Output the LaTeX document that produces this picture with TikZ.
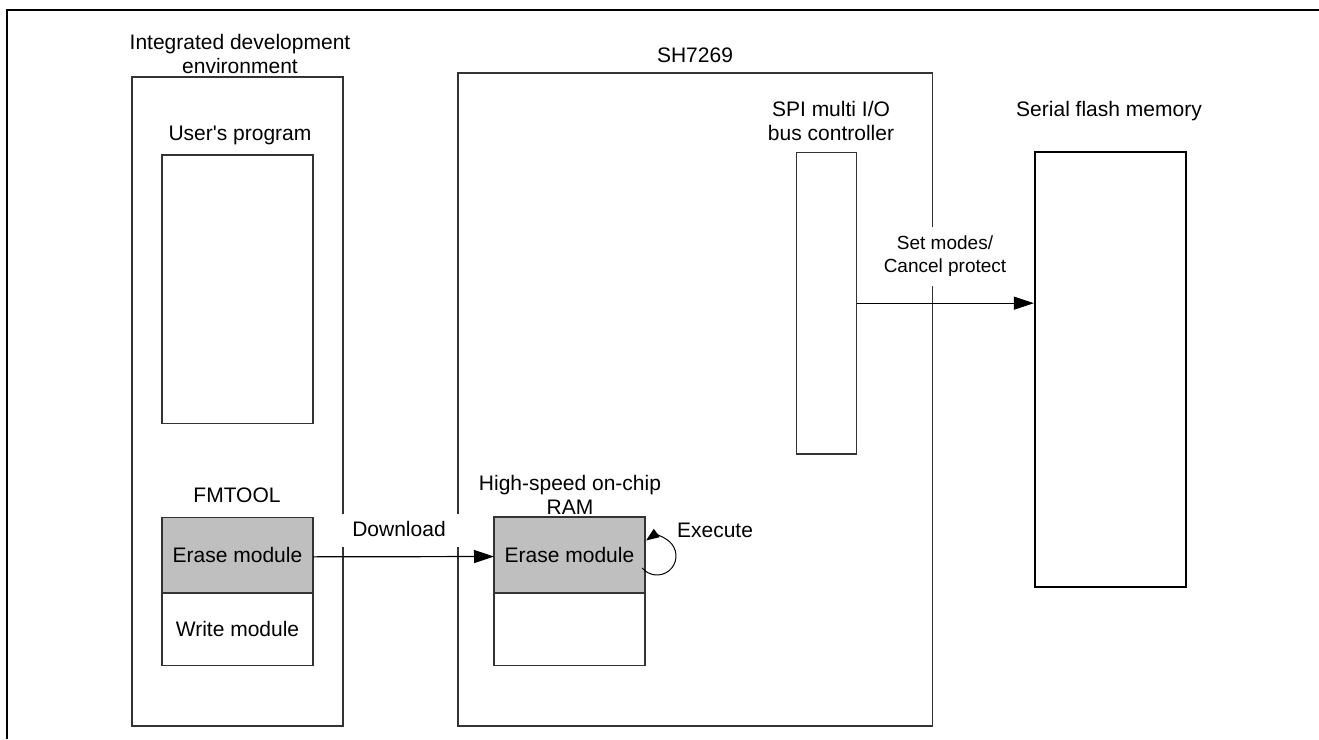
\documentclass[tikz,border=0pt]{standalone}
\usepackage{fontspec}
\setmainfont{Liberation Sans}
\usetikzlibrary{arrows.meta}
\begin{document}
\begin{tikzpicture}[x=1bp,y=1bp,
  box/.style={draw=black!80, line width=1.2bp, inner sep=0pt, outer sep=0pt, fill=white},
  graybox/.style={box, fill=black!25},
  lbl/.style={font=\fontsize{21bp}{24.7bp}\selectfont, inner sep=0pt, align=center},
  small/.style={font=\fontsize{19bp}{22.7bp}\selectfont, inner sep=0pt, align=center},
  conn/.style={draw=black, line width=1.2bp, -{Triangle[length=20bp,width=13bp]}},
  loopconn/.style={draw=black, line width=1bp, -{Triangle[length=13bp,width=10bp]}}
]
\useasboundingbox (0,0) rectangle (1319,-739);
% outer frame
\draw[line width=2.2bp, black] (7,-739) -- (7,-10) -- (1319,-10);

% big boxes
\node[box, minimum width=211bp, minimum height=649bp] (ide) at (237.5,-401.5) {};
\node[box, minimum width=474.7bp, minimum height=653bp] (chip) at (695.35,-399.5) {};

% inner boxes
\node[box, minimum width=151bp, minimum height=268.7bp] (user) at (237.5,-289.35) {};
\node[graybox, lbl, minimum width=151bp, minimum height=75.3bp] (iderase) at (237.5,-555.35) {Erase module};
\node[box, lbl, minimum width=151bp, minimum height=72.3bp] (idwrite) at (237.5,-629.15) {Write module};
\node[graybox, lbl, minimum width=151bp, minimum height=76bp] (ramerase) at (569.5,-555) {Erase module};
\node[box, minimum width=151bp, minimum height=72.3bp] (ramlow) at (569.5,-629.15) {};
\node[box, minimum width=60.4bp, minimum height=301.7bp] (spi) at (826.5,-303.15) {};
\node[draw=black, line width=2.2bp, inner sep=0pt, minimum width=151bp, minimum height=435bp] (flash) at (1110.5,-369.5) {};

% titles
\node[lbl] (idetitle) at (240,-54) {Integrated development\\environment};
\node[lbl, anchor=base] (usertitle) at (240,-140.7) {User\textquotesingle s program};
\node[lbl, anchor=base] (chiptitle) at (695,-62.7) {SH7269};
\node[lbl] (spititle) at (831,-121) {SPI multi I/O\\bus controller};
\node[lbl, anchor=base] (flashtitle) at (1109,-116.7) {Serial flash memory};
\node[lbl, anchor=base] (fmtool) at (237,-502.7) {FMTOOL};
\node[lbl] (ramtitle) at (570,-495) {High-speed on-chip\\RAM};

% connectors
\draw[conn] ([yshift=-1.5bp]iderase.east) -- ([yshift=-1.5bp]ramerase.west);
\draw[conn] (spi.east) -- (spi.east -| flash.west);
\coordinate (loopc) at (657,-556);
\draw[loopconn] (loopc) ++(-141:19) arc[start angle=-141, end angle=125, radius=19];

% labels with white background
\node[lbl, anchor=base, fill=white, text height=22bp, text depth=11bp, minimum width=122bp] (download) at (399,-536) {Download};
\node[lbl, anchor=base] (execute) at (715,-537.3) {Execute};
\node[small, fill=white, inner xsep=3bp, inner ysep=9bp] (setmodes) at (945,-256.4) {Set modes/\\Cancel protect};
\end{tikzpicture}
\end{document}
